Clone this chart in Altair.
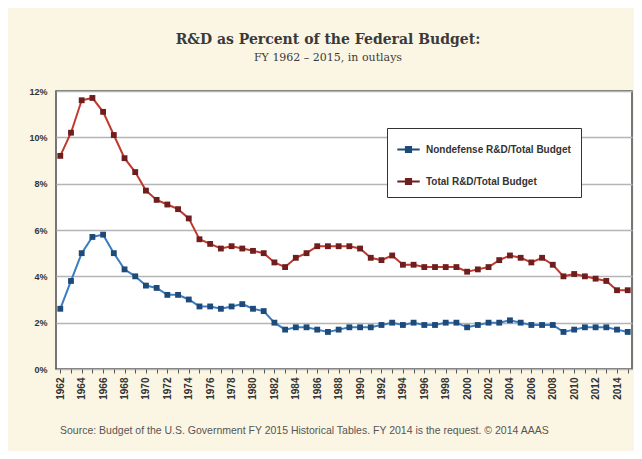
import altair as alt
import pandas as pd

years = list(range(1962, 2016))

total_rd = [9.2, 10.2, 11.6, 11.7, 11.1, 10.1, 9.1, 8.5, 7.7, 7.3,
            7.1, 6.9, 6.5, 5.6, 5.4, 5.2, 5.3, 5.2, 5.1, 5.0,
            4.6, 4.4, 4.8, 5.0, 5.3, 5.3, 5.3, 5.3, 5.2, 4.8,
            4.7, 4.9, 4.5, 4.5, 4.4, 4.4, 4.4, 4.4, 4.2, 4.3,
            4.4, 4.7, 4.9, 4.8, 4.6, 4.8, 4.5, 4.0, 4.1, 4.0,
            3.9, 3.8, 3.4, 3.4]

nondefense_rd = [2.6, 3.8, 5.0, 5.7, 5.8, 5.0, 4.3, 4.0, 3.6, 3.5,
                 3.2, 3.2, 3.0, 2.7, 2.7, 2.6, 2.7, 2.8, 2.6, 2.5,
                 2.0, 1.7, 1.8, 1.8, 1.7, 1.6, 1.7, 1.8, 1.8, 1.8,
                 1.9, 2.0, 1.9, 2.0, 1.9, 1.9, 2.0, 2.0, 1.8, 1.9,
                 2.0, 2.0, 2.1, 2.0, 1.9, 1.9, 1.9, 1.6, 1.7, 1.8,
                 1.8, 1.8, 1.7, 1.6]

series_names = ["Nondefense R&D/Total Budget", "Total R&D/Total Budget"]
line_colors = ["#3b7dbf", "#c0392b"]
marker_colors = ["#1d4a78", "#6e1e1e"]
y_ticks = [0, 2, 4, 6, 8, 10, 12]

title_text = "R&D as Percent of the Federal Budget:"
subtitle_text = "FY 1962 \u2013 2015, in outlays"
source_text = ("Source: Budget of the U.S. Government FY 2015 Historical Tables. "
               "FY 2014 is the request. \u00a9 2014 AAAS")

df = pd.DataFrame({
    "year": years * 2,
    "pct": nondefense_rd + total_rd,
    "series": [series_names[0]] * len(years) + [series_names[1]] * len(years),
})

W, H = 576, 278

x_enc = alt.X(
    "year:Q",
    scale=alt.Scale(domain=[1961.6, 2015.4], nice=False, zero=False),
    axis=alt.Axis(
        values=years,
        labelExpr="datum.value % 2 == 0 ? datum.value : ''",
        labelAngle=-90,
        labelFont="Liberation Sans",
        labelFontWeight="bold",
        labelFontSize=10,
        labelColor="#333333",
        labelPadding=4,
        tickSize=4,
        tickColor="#555555",
        domain=False,
        grid=False,
        title=None,
        labelOverlap=False,
    ),
)

y_enc = alt.Y(
    "pct:Q",
    scale=alt.Scale(domain=[0, 12], nice=False),
    axis=alt.Axis(
        values=y_ticks,
        labelExpr="datum.value + '%'",
        labelFont="Liberation Sans",
        labelFontWeight="bold",
        labelFontSize=9,
        labelColor="#333333",
        labelPadding=9,
        tickSize=0,
        domain=False,
        grid=True,
        gridColor="#b5b5b5",
        gridWidth=1.5,
        title=None,
    ),
)

base = alt.Chart(df)

lines = base.mark_line(strokeWidth=2).encode(
    x=x_enc,
    y=y_enc,
    color=alt.Color("series:N",
                    scale=alt.Scale(domain=series_names, range=line_colors),
                    legend=None),
    detail="series:N",
)

points = base.mark_point(filled=True, shape="square", size=34, opacity=1).encode(
    x=x_enc,
    y=y_enc,
    fill=alt.Fill(
        "series:N",
        scale=alt.Scale(domain=series_names, range=marker_colors),
        legend=alt.Legend(
            title=None,
            orient="none",
            legendX=331,
            legendY=37,
            direction="vertical",
            symbolType="M-1,-0.1 L1,-0.1 L1,0.1 L-1,0.1 Z M-0.32,-0.32 L0.32,-0.32 L0.32,0.32 L-0.32,0.32 Z",
            symbolSize=500,
            symbolStrokeWidth=0,
            labelFont="Liberation Sans",
            labelFontWeight="bold",
            labelFontSize=10,
            labelColor="#333333",
            labelOffset=6,
            rowPadding=15,
            padding=10,
            strokeColor="#333333",
            fillColor="#ffffff",
            cornerRadius=0,
        ),
    ),
)

source_df = pd.DataFrame({"t": [source_text]})
source = alt.Chart(source_df).mark_text(
    align="left", baseline="middle", font="Liberation Sans", fontSize=10.5,
    color="#555555",
).encode(text="t:N", x=alt.value(4), y=alt.value(H + 62))

chart = alt.layer(lines, points, source).resolve_scale(
    color="independent", fill="independent"
).properties(
    width=W,
    height=H,
    background="#fbf6e3",
    padding={"left": 48, "top": 83, "right": 2, "bottom": 82},
    autosize=alt.AutoSizeParams(type="none"),
    title=alt.TitleParams(
        text=title_text,
        subtitle=subtitle_text,
        anchor="middle",
        frame="group",
        dx=-16,
        font="DejaVu Serif",
        fontSize=14,
        fontWeight="bold",
        color="#3a3a3a",
        subtitleFont="DejaVu Serif",
        subtitleFontSize=11,
        subtitleColor="#3a3a3a",
        subtitlePadding=5,
        offset=24,
    ),
).configure_view(
    fill="#ffffff",
    stroke="#4a4a4a",
    strokeWidth=1.5,
)

chart.save("out.html", embed_options={"renderer": "svg", "actions": False})
